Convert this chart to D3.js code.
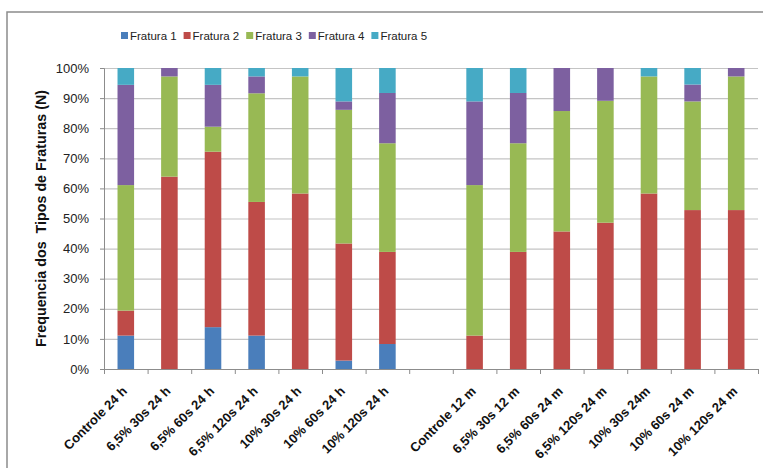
<!DOCTYPE html>
<html>
<head>
<meta charset="utf-8">
<script src="https://cdn.jsdelivr.net/npm/d3@7"></script>
<style>
  body { margin: 0; background: #fff; }
  svg { display: block; font-family: "Liberation Sans", Arial, sans-serif; }
</style>
</head>
<body>
<svg width="763" height="468"></svg>
<script>
// categories (empty slot in the middle separates the two groups)
var categories = ["Controle 24 h", "6,5% 30s 24 h", "6,5% 60s 24 h", "6,5% 120s 24 h",
    "10% 30s 24 h", "10% 60s 24 h", "10% 120s 24 h", "",
    "Controle 12 m", "6,5% 30s 12 m", "6,5% 60s 24 m", "6,5% 120s 24 m",
    "10% 30s 24m", "10% 60s 24 m", "10% 120s 24 m"];

var seriesNames = ["Fratura 1", "Fratura 2", "Fratura 3", "Fratura 4", "Fratura 5"];
var seriesColors = ["#4a7ebb", "#be4b48", "#98b954", "#7d60a0", "#46aac5"];

// percentages per category
var fratura1 = [11.1, 0, 13.9, 11.1, 0, 2.8, 8.3, 0, 0, 0, 0, 0, 0, 0, 0];
var fratura2 = [8.3, 63.9, 58.3, 44.4, 58.3, 38.9, 30.6, 0, 11.1, 38.9, 45.7, 48.6, 58.3, 52.8, 52.8];
var fratura3 = [41.7, 33.3, 8.3, 36.1, 38.9, 44.4, 36.1, 0, 50.0, 36.1, 40.0, 40.5, 38.9, 36.1, 44.4];
var fratura4 = [33.3, 2.8, 13.9, 5.6, 0, 2.8, 16.7, 0, 27.8, 16.7, 14.3, 10.9, 0, 5.6, 2.8];
var fratura5 = [5.6, 0, 5.6, 2.8, 2.8, 11.1, 8.3, 0, 11.1, 8.3, 0, 0, 2.8, 5.6, 0];

var yTicks = [0, 10, 20, 30, 40, 50, 60, 70, 80, 90, 100];

var svg = d3.select("svg");

// outer chart frame
svg.append("rect")
    .attr("x", 7).attr("y", 12)
    .attr("width", 780).attr("height", 480)
    .attr("fill", "none")
    .attr("stroke", "#8c8c8c")
    .attr("stroke-width", 1.5);

var plotLeft = 104, plotRight = 758, plotTop = 68, plotBottom = 369;

var x = d3.scaleBand()
    .domain(categories)
    .range([plotLeft, plotRight])
    .paddingInner(0.62)
    .paddingOuter(0.31);

var xSlot = d3.scaleLinear().domain([0, categories.length]).range([plotLeft, plotRight]);

var y = d3.scaleLinear().domain([0, 100]).range([plotBottom, plotTop]);

// gridlines
svg.append("g")
    .selectAll("line")
    .data(yTicks.slice(1))
    .enter()
    .append("line")
    .attr("x1", plotLeft).attr("x2", plotRight)
    .attr("y1", function (d) { return y(d) + 0.5; })
    .attr("y2", function (d) { return y(d) + 0.5; })
    .attr("stroke", "#c4c4c4")
    .attr("stroke-width", 1.2);

// stacked bars
var rows = categories.map(function (c, i) {
    return { cat: c, f0: fratura1[i], f1: fratura2[i], f2: fratura3[i], f3: fratura4[i], f4: fratura5[i] };
});
var stack = d3.stack().keys(["f0", "f1", "f2", "f3", "f4"]);
var layers = stack(rows);

svg.append("g")
    .selectAll("g")
    .data(layers)
    .enter()
    .append("g")
    .attr("fill", function (d, i) { return seriesColors[i]; })
    .selectAll("rect")
    .data(function (d) { return d; })
    .enter()
    .append("rect")
    .attr("x", function (d) { return x(d.data.cat); })
    .attr("width", x.bandwidth())
    .attr("y", function (d) { return y(Math.min(100, d[1])); })
    .attr("height", function (d) { return Math.max(0, y(d[0]) - y(Math.min(100, d[1]))); });

// y axis
var yAxis = svg.append("g")
    .attr("transform", "translate(" + plotLeft + ",0)")
    .call(d3.axisLeft(y).tickValues(yTicks).tickSize(4).tickPadding(11)
        .tickFormat(function (d) { return d + "%"; }));
yAxis.select(".domain").attr("stroke", "#8c8c8c");
yAxis.selectAll(".tick line").attr("stroke", "#8c8c8c");
yAxis.selectAll("text")
    .attr("font-size", "13px")
    .attr("fill", "#222")
    .attr("font-family", "'Liberation Sans', Arial, sans-serif");

// x axis (category boundaries)
var xAxis = svg.append("g")
    .attr("transform", "translate(0," + plotBottom + ")")
    .call(d3.axisBottom(xSlot).tickValues(d3.range(categories.length + 1))
        .tickSize(5).tickFormat(""));
xAxis.select(".domain").attr("stroke", "#8c8c8c");
xAxis.selectAll(".tick line").attr("stroke", "#8c8c8c");

// x labels
svg.append("g")
    .selectAll("text")
    .data(categories)
    .enter()
    .append("text")
    .attr("transform", function (d) {
        return "translate(" + (x(d) + x.bandwidth() / 2 + 2) + "," + (plotBottom + 23) + ") rotate(-45)";
    })
    .attr("text-anchor", "end")
    .attr("font-size", "13px")
    .attr("font-weight", "bold")
    .attr("fill", "#111")
    .text(function (d) { return d; });

// y title
svg.append("text")
    .attr("transform", "translate(46," + ((plotTop + plotBottom) / 2) + ") rotate(-90)")
    .attr("text-anchor", "middle")
    .attr("font-size", "14.3px")
    .attr("font-weight", "bold")
    .attr("fill", "#111")
    .attr("xml:space", "preserve")
    .text("Frequencia dos  Tipos de Fraturas (N)");

// legend
var legend = svg.append("g")
    .selectAll("g")
    .data(seriesNames)
    .enter()
    .append("g")
    .attr("transform", function (d, i) { return "translate(" + (121 + i * 62.6) + ",36)"; });
legend.append("rect")
    .attr("x", 0).attr("y", -4)
    .attr("width", 7).attr("height", 7)
    .attr("fill", function (d, i) { return seriesColors[i]; });
legend.append("text")
    .attr("x", 9).attr("y", 4)
    .attr("font-size", "11.5px")
    .attr("fill", "#222")
    .text(function (d) { return d; });
</script>
</body>
</html>
